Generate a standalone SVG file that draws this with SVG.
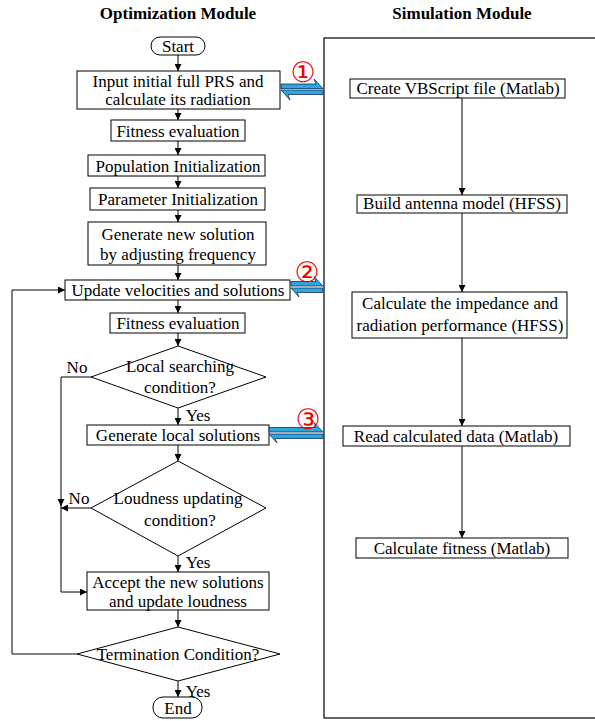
<svg xmlns="http://www.w3.org/2000/svg" width="595" height="721" viewBox="0 0 595 721">
<defs>
<style>
text{font-family:"Liberation Serif","Times New Roman",serif;font-size:17px;fill:#000;text-anchor:middle}
.h{font-weight:bold;font-size:17px}
.b{fill:#fff;stroke:#000;stroke-width:1}
.c{fill:none;stroke:#000;stroke-width:1}
.hp{fill:#29a8e0;stroke:#1b2f5a;stroke-width:0.8}
.n{fill:#e00;font-family:"DejaVu Sans",sans-serif;font-size:28px}
</style>
<marker id="ah" viewBox="0 0 10 10" refX="10" refY="5" markerWidth="7" markerHeight="7" orient="auto" markerUnits="userSpaceOnUse">
<path d="M0,0 L10,5 L0,10 Z" fill="#000"/>
</marker>
</defs>
<rect width="595" height="721" fill="#fff"/>
<text class="h" x="178" y="19">Optimization Module</text>
<text class="h" x="462" y="19">Simulation Module</text>

<g id="sim-module"><rect x="324" y="38" width="280" height="680" fill="none" stroke="#000" stroke-width="1.2"/></g>

<g id="start"><rect class="b" x="151" y="37" width="54" height="18" rx="9"/><text x="178" y="52">Start</text></g>
<g id="input"><rect class="b" x="77" y="71" width="203" height="38"/><text x="178" y="87">Input initial full PRS and</text><text x="178" y="105">calculate its radiation</text></g>
<g id="fitness1"><rect class="b" x="111" y="120" width="134" height="21"/><text x="178" y="137">Fitness evaluation</text></g>
<g id="popinit"><rect class="b" x="88" y="155" width="177" height="21"/><text x="178" y="172">Population Initialization</text></g>
<g id="parinit"><rect class="b" x="90" y="188" width="175" height="22"/><text x="178" y="205">Parameter Initialization</text></g>
<g id="gennew"><rect class="b" x="88" y="222" width="178" height="43"/><text x="178" y="240">Generate new solution</text><text x="178" y="260">by adjusting frequency</text></g>
<g id="update"><rect class="b" x="65" y="280" width="225" height="20"/><text x="178" y="296">Update velocities and solutions</text></g>
<g id="fitness2"><rect class="b" x="110" y="313" width="135" height="20"/><text x="178" y="329">Fitness evaluation</text></g>
<g id="localcond"><path class="b" d="M178,346 L266,377 L178,408 L91,377 Z"/><text x="180" y="372">Local searching</text><text x="180" y="393">condition?</text></g>
<g id="genlocal"><rect class="b" x="87" y="425" width="182" height="20"/><text x="178" y="441">Generate local solutions</text></g>
<g id="loudcond"><path class="b" d="M178,461 L266,508 L178,556 L91,508 Z"/><text x="178" y="504">Loudness updating</text><text x="180" y="526">condition?</text></g>
<g id="accept"><rect class="b" x="87" y="572" width="182" height="38"/><text x="178" y="588">Accept the new solutions</text><text x="178" y="607">and update loudness</text></g>
<g id="termcond"><path class="b" d="M178,627 L280,654 L178,681 L77,654 Z"/><text x="178" y="660">Termination Condition?</text></g>
<g id="end"><rect class="b" x="153" y="697" width="49" height="21" rx="10"/><text x="178" y="714">End</text></g>

<g id="vbs"><rect class="b" x="350" y="79" width="215" height="19"/><text x="458" y="94">Create VBScript file (Matlab)</text></g>
<g id="build"><rect class="b" x="357" y="195" width="210" height="18"/><text x="462" y="209">Build antenna model (HFSS)</text></g>
<g id="calcimp"><rect class="b" x="352" y="292" width="215" height="46"/><text x="460" y="309">Calculate the impedance and</text><text x="460" y="331">radiation performance (HFSS)</text></g>
<g id="read"><rect class="b" x="343" y="426" width="227" height="20"/><text x="456" y="442">Read calculated data (Matlab)</text></g>
<g id="calcfit"><rect class="b" x="356" y="538" width="212" height="20"/><text x="462" y="554">Calculate fitness (Matlab)</text></g>

<g id="connectors">
<path class="c" marker-end="url(#ah)" d="M178,55 V71"/>
<path class="c" marker-end="url(#ah)" d="M178,109 V120"/>
<path class="c" marker-end="url(#ah)" d="M178,141 V155"/>
<path class="c" marker-end="url(#ah)" d="M178,176 V188"/>
<path class="c" marker-end="url(#ah)" d="M178,210 V222"/>
<path class="c" marker-end="url(#ah)" d="M178,265 V280"/>
<path class="c" marker-end="url(#ah)" d="M178,300 V313"/>
<path class="c" marker-end="url(#ah)" d="M178,333 V346"/>
<path class="c" marker-end="url(#ah)" d="M178,408 V425"/>
<path class="c" marker-end="url(#ah)" d="M178,445 V461"/>
<path class="c" marker-end="url(#ah)" d="M178,556 V572"/>
<path class="c" marker-end="url(#ah)" d="M178,610 V627"/>
<path class="c" marker-end="url(#ah)" d="M178,681 V697"/>
<path class="c" marker-end="url(#ah)" d="M91,377 H61 V506"/>
<path class="c" marker-end="url(#ah)" d="M61,500 V592 H87"/>
<path class="c" marker-end="url(#ah)" d="M91,508 H61"/>
<path class="c" stroke="#333" stroke-width="1.2" marker-end="url(#ah)" d="M77,654 H12 V290 H65"/>
<path class="c" marker-end="url(#ah)" d="M462,98 V195"/>
<path class="c" marker-end="url(#ah)" d="M462,213 V292"/>
<path class="c" marker-end="url(#ah)" d="M462,338 V426"/>
<path class="c" marker-end="url(#ah)" d="M462,446 V538"/>
<text x="77" y="373">No</text>
<text x="79" y="504">No</text>
<text x="198" y="421">Yes</text>
<text x="198" y="568">Yes</text>
<text x="198" y="697">Yes</text>
<path class="hp" d="M281,84 L316,84 L314,79 L323,88.5 L281,88.5 Z"/>
<path class="hp" d="M323,90 L281,90 L290,100 L288,94.5 L323,94.5 Z"/>
<path class="hp" d="M291,281.5 L316,281.5 L314,276.5 L323,286 L291,286 Z"/>
<path class="hp" d="M323,288 L291,288 L299,297 L297,292.5 L323,292.5 Z"/>
<path class="hp" d="M269,427.5 L316,427.5 L314,422.5 L323,432 L269,432 Z"/>
<path class="hp" d="M323,434 L269,434 L277,443 L275,438.5 L323,438.5 Z"/>
<text class="n" x="303" y="82">①</text>
<text class="n" x="307" y="282">②</text>
<text class="n" x="308" y="429">③</text>
</g>
</svg>
